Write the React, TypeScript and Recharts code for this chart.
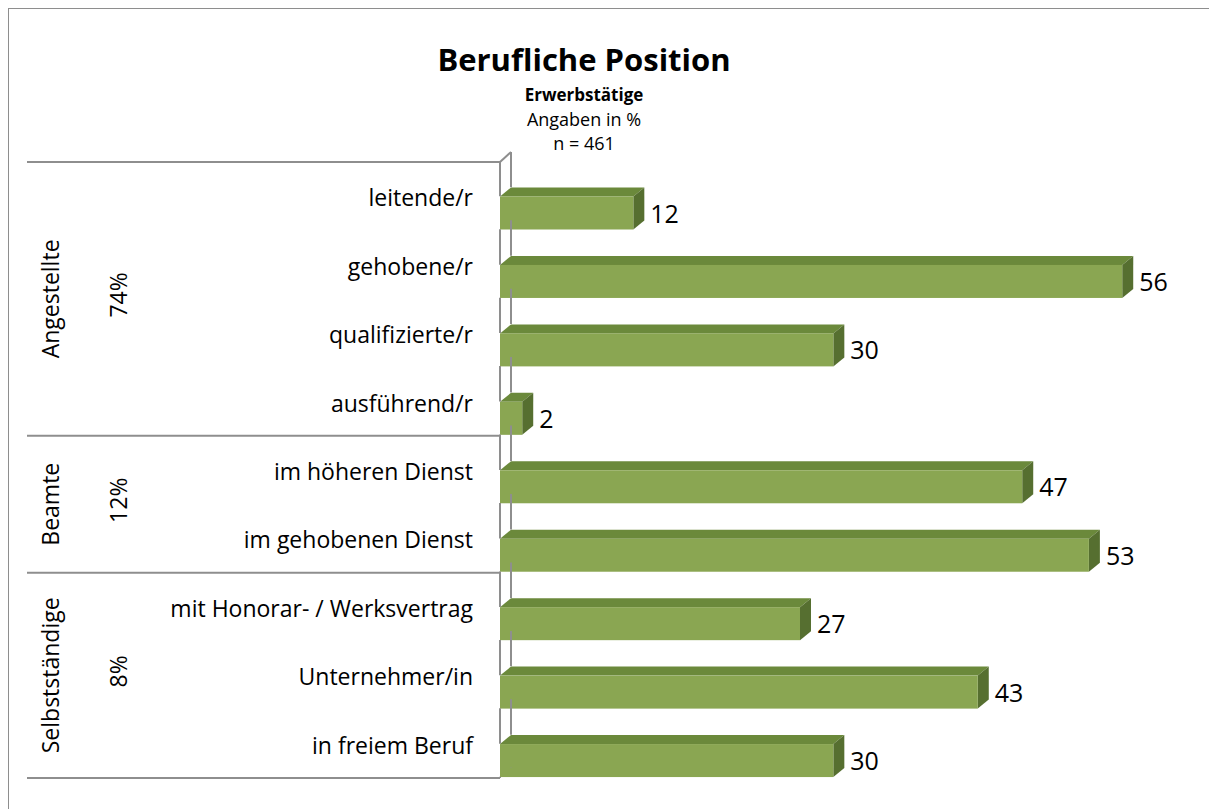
import { BarChart, Bar, XAxis, YAxis, LabelList } from "recharts";

const categories = [
  "leitende/r",
  "gehobene/r",
  "qualifizierte/r",
  "ausführend/r",
  "im höheren Dienst",
  "im gehobenen Dienst",
  "mit Honorar- / Werksvertrag",
  "Unternehmer/in",
  "in freiem Beruf",
];
const values = [12, 56, 30, 2, 47, 53, 27, 43, 30];
const groupNames = ["Angestellte", "Beamte", "Selbstständige"];
const groupShares = ["74%", "12%", "8%"];
const groupSizes = [4, 2, 3];

const data = categories.map((name, i) => ({ name, value: values[i] }));

// group start index -> group number
const groupStarts: Record<number, number> = {};
let acc = 0;
groupSizes.forEach((n, g) => {
  groupStarts[acc] = g;
  acc += n;
});

const W = 1209;
const H = 801;
const M = { top: 154, right: 17, bottom: 31, left: 0 };
const AXIS_W = 492;
const PLOT_H = H - M.top - M.bottom;
const BAND = PLOT_H / categories.length;
const BAR = 33;
const DX = 11;
const DY = 9;
const FONT = "'Open Sans', 'Noto Sans', sans-serif";
const LINE = "#8e8e8e";
const LABEL_SIZE = 23;

function Bar3D(props: any) {
  const { x, y, width, height } = props;
  const w = Math.max(width, 0);
  const fy = y + height / 2;
  return (
    <g>
      <polygon
        points={`${x},${fy} ${x + DX},${fy - DY} ${x + w + DX},${fy - DY} ${x + w},${fy}`}
        fill="#6b893b"
      />
      <polygon
        points={`${x + w},${fy} ${x + w + DX},${fy - DY} ${x + w + DX},${fy + height - DY} ${x + w},${fy + height}`}
        fill="#566f30"
      />
      <rect x={x} y={fy} width={w} height={height} fill="#8aa652" />
    </g>
  );
}

function ValueLabel(props: any) {
  const vb = props.viewBox || props;
  const x = vb.x ?? props.x;
  const y = vb.y ?? props.y;
  const width = vb.width ?? props.width;
  const height = vb.height ?? props.height;
  return (
    <text
      x={x + width + DX + 6}
      y={y + height + 9.5}
      fontSize={25}
      fontFamily={FONT}
      fill="#000"
    >
      {props.value}
    </text>
  );
}

function CategoryTick(props: any) {
  const { y, payload, index } = props;
  const c = y;
  const front = M.left + AXIS_W;
  const back = front + DX;
  const bottom = M.top + PLOT_H;
  const last = index === categories.length - 1;
  const g = groupStarts[index];
  const top = c - BAND / 2;

  const frontFrom = index === 0 ? M.top : c - BAND + BAR;
  const backFrom = index === 0 ? M.top - 10 : c - BAND + BAR - DY;

  return (
    <g>
      {/* wall lines, only in the gaps between bars */}
      <line x1={front} y1={frontFrom} x2={front} y2={c} stroke={LINE} strokeWidth={2} />
      <line x1={back} y1={backFrom} x2={back} y2={c - DY} stroke={LINE} strokeWidth={2} />
      {index === 0 && (
        <line x1={front} y1={M.top} x2={back} y2={M.top - 10} stroke={LINE} strokeWidth={2} />
      )}
      {last && (
        <>
          <line x1={front} y1={c + BAR} x2={front} y2={bottom} stroke={LINE} strokeWidth={2} />
          <line x1={back} y1={c + BAR - DY} x2={back} y2={bottom - 10} stroke={LINE} strokeWidth={2} />
          <line x1={19} y1={bottom} x2={front} y2={bottom} stroke={LINE} strokeWidth={2} />
        </>
      )}
      {g !== undefined && (
        <>
          <line x1={19} y1={top} x2={front} y2={top} stroke={LINE} strokeWidth={2} />
          <text
            transform={`translate(42,${top + (groupSizes[g] * BAND) / 2}) rotate(-90)`}
            textAnchor="middle"
            dominantBaseline="central"
            fontSize={LABEL_SIZE}
            fontFamily={FONT}
            fill="#000"
          >
            {groupNames[g]}
          </text>
          <text
            transform={`translate(110,${top + (groupSizes[g] * BAND) / 2 - 4}) rotate(-90)`}
            textAnchor="middle"
            dominantBaseline="central"
            fontSize={LABEL_SIZE}
            fontFamily={FONT}
            fill="#000"
          >
            {groupShares[g]}
          </text>
        </>
      )}
      <text
        x={465}
        y={c + 10}
        textAnchor="end"
        fontSize={LABEL_SIZE}
        fontFamily={FONT}
        fill="#000"
      >
        {payload.value}
      </text>
    </g>
  );
}

export default function App() {
  return (
    <div style={{ position: "relative", width: W, height: H, fontFamily: FONT }}>
      <div
        style={{
          position: "absolute",
          left: -1,
          top: -1,
          width: W + 10,
          height: H + 10,
          borderLeft: `2px solid ${LINE}`,
          borderTop: `2px solid ${LINE}`,
          boxSizing: "border-box",
        }}
      />
      <BarChart width={W} height={H} layout="vertical" data={data} margin={M}>
        <XAxis type="number" domain={[0, 63]} hide />
        <YAxis
          type="category"
          dataKey="name"
          width={AXIS_W}
          axisLine={false}
          tickLine={false}
          interval={0}
          tick={<CategoryTick />}
        />
        <Bar dataKey="value" barSize={BAR} shape={<Bar3D />} isAnimationActive={false}>
          <LabelList dataKey="value" content={<ValueLabel />} />
        </Bar>
      </BarChart>
      <svg
        width={W}
        height={160}
        style={{ position: "absolute", left: 0, top: 0, pointerEvents: "none" }}
      >
        <text x={576} y={63} textAnchor="middle" fontSize={31} fontWeight="bold" fontFamily={FONT}>
          Berufliche Position
        </text>
        <text x={576} y={93} textAnchor="middle" fontSize={17} fontWeight="bold" fontFamily={FONT}>
          Erwerbstätige
        </text>
        <text x={576} y={118} textAnchor="middle" fontSize={18} fontFamily={FONT}>
          Angaben in %
        </text>
        <text x={576} y={142} textAnchor="middle" fontSize={18} fontFamily={FONT}>
          n = 461
        </text>
      </svg>
    </div>
  );
}
